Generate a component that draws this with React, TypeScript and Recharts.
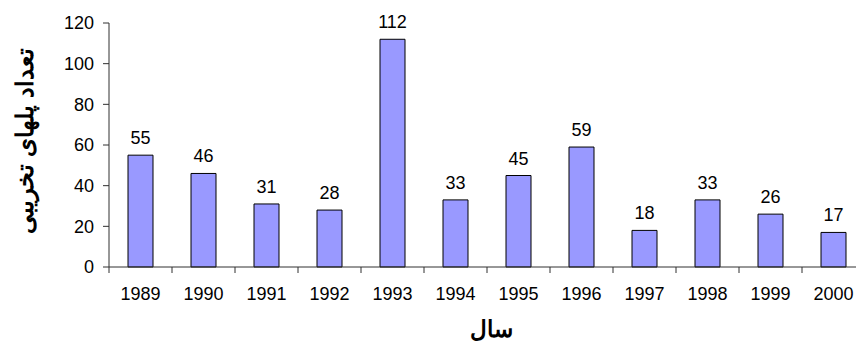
import React from 'react';
import { BarChart, Bar, XAxis, YAxis, LabelList } from 'recharts';

const years = ['1989', '1990', '1991', '1992', '1993', '1994', '1995', '1996', '1997', '1998', '1999', '2000'];
const bridges = [55, 46, 31, 28, 112, 33, 45, 59, 18, 33, 26, 17];
const yTicks = [0, 20, 40, 60, 80, 100, 120];

const data = years.map((year, i) => ({ year, value: bridges[i] }));

const font = '"Liberation Sans", Arial, sans-serif';
const axisColor = '#303030';

// x ticks sit on the category boundaries, as in the original
const YearTick = (props: any) => {
  const { x, y, payload, width } = props;
  const band = width / years.length;
  const left = x - band / 2;
  return (
    <g>
      <line x1={left} y1={y} x2={left} y2={y + 6} stroke={axisColor} strokeWidth={1} />
      <text x={x} y={y + 33} textAnchor="middle" fill="#000" fontSize={18} fontFamily={font}>
        {payload.value}
      </text>
    </g>
  );
};

export default function App() {
  return (
    <div style={{ position: 'absolute', left: 0, top: 0, width: 856, height: 344, overflow: 'hidden', background: '#fff' }}>
      <BarChart width={870} height={344} data={data} margin={{ top: 23, right: 5, left: 0, bottom: 6 }}>
        <YAxis
          domain={[0, 120]}
          ticks={yTicks}
          width={109}
          tickSize={6}
          tickMargin={9}
          stroke={axisColor}
          tick={{ fill: '#000', fontSize: 18, fontFamily: font }}
        />
        <XAxis
          dataKey="year"
          height={71}
          stroke={axisColor}
          tickLine={false}
          tickSize={0}
          tickMargin={0}
          tick={<YearTick />}
          interval={0}
        />
        <Bar dataKey="value" fill="#9999FF" stroke="#000" strokeWidth={1} barSize={25} isAnimationActive={false}>
          <LabelList dataKey="value" position="top" offset={11} fill="#000" fontSize={18} fontFamily={font} />
        </Bar>
      </BarChart>
      <svg width={856} height={344} style={{ position: 'absolute', left: 0, top: 0, pointerEvents: 'none' }}>
        <text
          x={24}
          y={141}
          transform="rotate(-90 24 141)"
          textAnchor="middle"
          dominantBaseline="central"
          fontSize={24}
          fontWeight="bold"
          fontFamily={font}
          fill="#000"
        >
          تعداد پلهای تخریبی
        </text>
        <text
          x={491}
          y={329}
          textAnchor="middle"
          dominantBaseline="central"
          fontSize={23}
          fontWeight="bold"
          fontFamily={font}
          fill="#000"
        >
          سال
        </text>
      </svg>
    </div>
  );
}
